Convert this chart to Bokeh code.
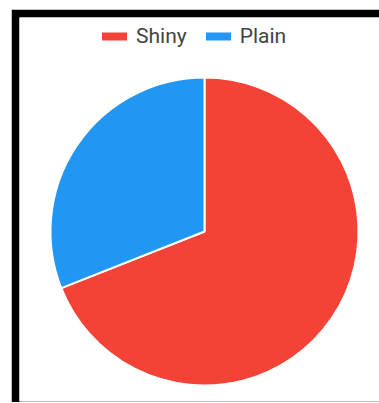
import math
from bokeh.plotting import figure
from bokeh.models import ColumnDataSource, Legend, LegendItem
from bokeh.embed import file_html
from bokeh.resources import INLINE

# data
categories = ["Shiny", "Plain"]
values = [69, 31]
colors = ["#F44336", "#2196F3"]

# layout constants (pixels == data units)
FRAME_W, FRAME_H = 360, 384
CX, CY, R = 185, 170, 154

total = float(sum(values))
plain_frac = values[1] / total
a0 = math.pi / 2
plain_start = a0
plain_end = a0 + 2 * math.pi * plain_frac
shiny_start = plain_end
shiny_end = a0 + 2 * math.pi
src = ColumnDataSource(dict(
    cat=categories,
    start=[shiny_start, plain_start],
    end=[shiny_end, plain_end],
    color=colors,
    x=[CX, CX], y=[CY, CY],
))

p = figure(width=368, height=393, output_backend="svg", toolbar_location=None,
           x_range=(0, FRAME_W), y_range=(0, FRAME_H),
           min_border_left=8, min_border_top=8, min_border_right=0, min_border_bottom=1)
p.border_fill_color = "black"
p.background_fill_color = "white"
p.outline_line_color = None
p.axis.visible = False
p.grid.visible = False
p.styles = {"margin-left": "11px", "margin-top": "9px"}

p.wedge(x="x", y="y", radius=R, start_angle="start", end_angle="end",
        fill_color="color", line_color="white", line_width=2, source=src)

# legend proxies (NaN data -> only drawn in legend)
items = []
for cat, col in zip(categories, colors):
    r = p.line(x=[float("nan")], y=[float("nan")], line_color=col,
               line_width=8, line_cap="round")
    items.append(LegendItem(label=cat, renderers=[r]))

legend = Legend(items=items, orientation="horizontal", location=(83, 353),
                label_text_font="Roboto", label_text_font_size="21px",
                label_text_color="#444444", glyph_width=25, glyph_height=20,
                label_standoff=9, spacing=19, padding=0, margin=0,
                border_line_color=None, background_fill_alpha=0)
p.add_layout(legend, "center")

open("out.html", "w").write(file_html(p, INLINE))
